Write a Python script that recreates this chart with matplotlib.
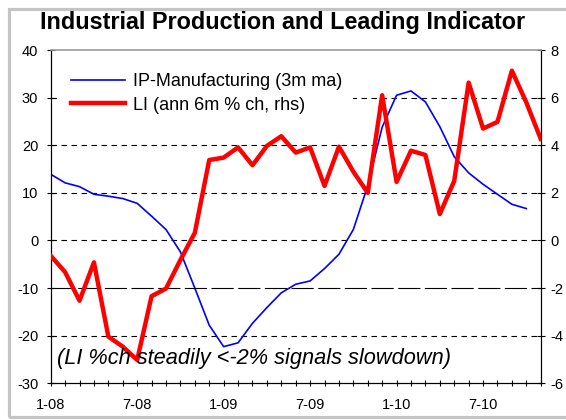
import numpy as np
import matplotlib
matplotlib.use('Agg')
import matplotlib.pyplot as plt
from matplotlib.patches import Rectangle

plt.rcParams['font.family'] = 'Liberation Sans'
plt.rcParams['axes.unicode_minus'] = False

# monthly series, Jan 2008 onwards
ip_mfg = [13.9, 12.1, 11.3, 9.7, 9.3, 8.8, 7.8, 5.1, 2.3, -2.4, -10.0, -17.8,
          -22.3, -21.5, -17.4, -14.1, -11.0, -9.2, -8.5, -5.9, -2.9, 2.3, 11.5, 23.8,
          30.5, 31.4, 29.1, 23.9, 17.6, 14.2, 11.8, 9.7, 7.6, 6.7]
li_chg = [-0.64, -1.33, -2.53, -0.92, -4.04, -4.46, -5.02, -2.34, -2.02, -0.82, 0.32, 3.38,
          3.48, 3.91, 3.16, 3.97, 4.38, 3.69, 3.91, 2.29, 3.94, 2.89, 2.0, 6.1,
          2.46, 3.77, 3.59, 1.11, 2.5, 6.63, 4.7, 4.98, 7.13, 5.8, 4.27]
tick_months = [0, 6, 12, 18, 24, 30]
tick_labels = ['1-08', '7-08', '1-09', '7-09', '1-10', '7-10']

fig = plt.figure(figsize=(5.66, 4.2), dpi=100)
fig.patches.append(Rectangle((9/566, 3/420), 1.2, 1-12/420, transform=fig.transFigure,
                             fill=False, edgecolor='#c4c4c4', linewidth=2.3))

ax = fig.add_axes([50.7/566, 1-383.3/420, 490/566, 333.3/420])
ax2 = ax.twinx()

x_ip = np.arange(len(ip_mfg))
x_li = np.arange(len(li_chg))

# gridlines
for v in [30, 20, 10, 0, -20]:
    ax.axhline(v, color='black', lw=0.8, dashes=(5, 4), zorder=1)
ax2.axhline(-2, color='black', lw=0.8, dashes=(20, 4), zorder=1)

ax.plot(x_ip, ip_mfg, color='#0000ff', lw=1.2, zorder=3)
ax2.plot(x_li, li_chg, color='#ff0000', lw=3.2, zorder=3)

ax.set_xlim(0, 34)
ax.set_ylim(-30, 40)
ax2.set_ylim(-6, 8)
ax.set_yticks(range(-30, 41, 10))
ax2.set_yticks(range(-6, 9, 2))
ax.set_xticks(tick_months)
ax.set_xticklabels(tick_labels)
ax.set_xticks(range(0, 35), minor=True)

for a in (ax, ax2):
    a.tick_params(axis='both', which='both', direction='inout', length=6, width=0.8,
                  labelsize=10.5, colors='black', pad=4)
ax.tick_params(axis='x', which='both', length=5, pad=8)
ax.tick_params(axis='y', pad=6)
for s in ('left', 'right', 'bottom'):
    ax2.spines[s].set_color('black')
ax2.spines['top'].set_color('#999999')
ax2.spines['top'].set_linewidth(1.2)
ax.spines['top'].set_visible(False)

fig.text(0.5, 1-22/420, 'Industrial Production and Leading Indicator', ha='center',
         va='center', fontsize=16.8, fontweight='bold')

ip_line = plt.Line2D([], [], color='#0000ff', lw=1.2)
li_line = plt.Line2D([], [], color='#ff0000', lw=3.2)
leg = ax2.legend([ip_line, li_line], ['IP-Manufacturing (3m ma)', 'LI (ann 6m % ch, rhs)'],
                 loc='upper left', bbox_to_anchor=(0.0, 0.99), fontsize=13,
                 handlelength=3.0, handletextpad=0.45, labelspacing=0.35,
                 frameon=True, fancybox=False, borderpad=0.6)
leg.get_frame().set_facecolor('white')
leg.get_frame().set_edgecolor('none')
leg.get_frame().set_alpha(1)

ax2.text(0.013, 0.075, '(LI %ch steadily <-2% signals slowdown)', transform=ax2.transAxes,
         fontsize=15.7, style='italic', va='center', ha='left')

fig.savefig('out.png', dpi=100)
